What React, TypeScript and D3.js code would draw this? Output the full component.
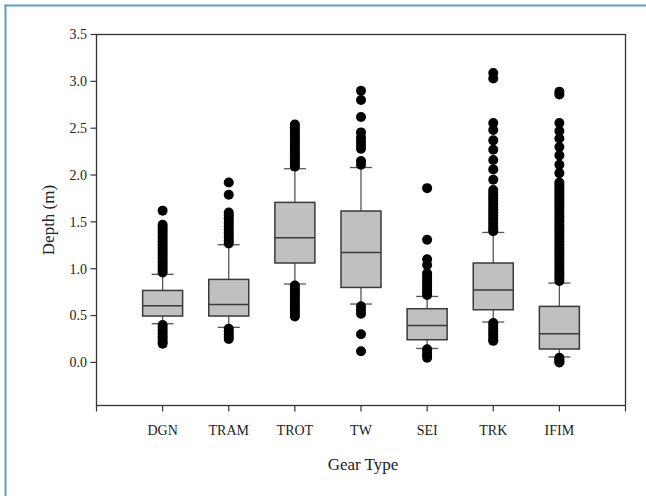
import React from 'react';
import * as d3 from 'd3';

// gear types along the x axis
const categories = ['DGN', 'TRAM', 'TROT', 'TW', 'SEI', 'TRK', 'IFIM'];

// box statistics (depth in m)
const q1 = [0.495, 0.495, 1.061, 0.8, 0.242, 0.562, 0.143];
const medians = [0.605, 0.619, 1.331, 1.174, 0.395, 0.772, 0.306];
const q3 = [0.768, 0.886, 1.708, 1.616, 0.573, 1.061, 0.598];
const whiskerLow = [0.413, 0.374, 0.837, 0.623, 0.149, 0.431, 0.058];
const whiskerHigh = [0.94, 1.256, 2.067, 2.08, 0.704, 1.387, 0.847];

// outliers per gear type
const outliers = [
  [1.62, 1.47, 1.44, 1.41, 1.38, 1.35, 1.32, 1.29, 1.26, 1.23, 1.2, 1.17, 1.14, 1.11, 1.08, 1.05, 1.02, 0.99, 0.96,
    0.4, 0.37, 0.34, 0.31, 0.28, 0.25, 0.22, 0.2],
  [1.92, 1.79, 1.6, 1.57, 1.54, 1.51, 1.48, 1.45, 1.42, 1.39, 1.36, 1.33, 1.3, 1.27,
    0.36, 0.33, 0.3, 0.27, 0.25],
  [2.54, 2.51, 2.48, 2.45, 2.42, 2.39, 2.36, 2.33, 2.3, 2.27, 2.24, 2.21, 2.18, 2.15, 2.12, 2.09,
    0.82, 0.79, 0.76, 0.73, 0.7, 0.67, 0.64, 0.61, 0.58, 0.55, 0.52, 0.49],
  [2.9, 2.8, 2.62, 2.455, 2.4, 2.36, 2.32, 2.28, 2.15, 2.11,
    0.6, 0.56, 0.52, 0.3, 0.12],
  [1.86, 1.31, 1.1, 1.04, 0.95, 0.92, 0.89, 0.86, 0.83, 0.8, 0.77, 0.74, 0.72,
    0.14, 0.11, 0.08, 0.05],
  [3.09, 3.03, 2.555, 2.48, 2.37, 2.27, 2.16, 2.06, 1.95, 1.84, 1.81, 1.78, 1.75, 1.72, 1.69, 1.66, 1.63, 1.6,
    1.57, 1.54, 1.51, 1.48, 1.45, 1.42, 1.4,
    0.42, 0.39, 0.36, 0.33, 0.3, 0.27, 0.24, 0.23],
  [2.89, 2.86, 2.555, 2.47, 2.39, 2.3, 2.21, 2.11, 2.02, 1.92, 1.89, 1.86, 1.83, 1.8, 1.77, 1.74, 1.71, 1.68,
    1.65, 1.62, 1.59, 1.56, 1.53, 1.5, 1.47, 1.44, 1.41, 1.38, 1.35, 1.32, 1.29, 1.26, 1.23, 1.2, 1.17, 1.14,
    1.11, 1.08, 1.05, 1.02, 0.99, 0.96, 0.93, 0.9, 0.87,
    0.05, 0.03, 0.01, 0.0],
];

const yTicks = [0, 0.5, 1, 1.5, 2, 2.5, 3, 3.5];
const xTicks = [0, 1, 2, 3, 4, 5, 6, 7, 8];

const W = 646;
const H = 496;
const font = '"Liberation Serif", "Times New Roman", serif';

export default function App() {
  const x = d3.scaleLinear().domain([0, 8]).range([96.5, 625.5]);
  const y = d3.scaleLinear().domain([-0.46, 3.5]).range([405.5, 34.5]);
  const boxW = 40;
  const capW = 22;

  return (
    <svg width={W} height={H} style={{ position: 'absolute', left: 0, top: 0, background: '#fff' }}>
      {/* blue frame */}
      <line x1={5.5} x2={5.5} y1={4.5} y2={H} stroke="#5aa0c2" strokeWidth={2} />
      <line x1={4.5} x2={W} y1={5.5} y2={5.5} stroke="#5aa0c2" strokeWidth={2} />

      {categories.map((c, i) => {
        const cx = x(i + 1);
        return (
          <g key={c}>
            <line x1={cx} x2={cx} y1={y(q3[i])} y2={y(whiskerHigh[i])} stroke="#555" strokeWidth={1.3} />
            <line x1={cx} x2={cx} y1={y(q1[i])} y2={y(whiskerLow[i])} stroke="#555" strokeWidth={1.3} />
            <line x1={cx - capW / 2} x2={cx + capW / 2} y1={y(whiskerHigh[i])} y2={y(whiskerHigh[i])} stroke="#555" strokeWidth={1.3} />
            <line x1={cx - capW / 2} x2={cx + capW / 2} y1={y(whiskerLow[i])} y2={y(whiskerLow[i])} stroke="#555" strokeWidth={1.3} />
            <rect x={cx - boxW / 2} y={y(q3[i])} width={boxW} height={y(q1[i]) - y(q3[i])}
              fill="#c0c0c0" stroke="#3a3a3a" strokeWidth={1.5} />
            <line x1={cx - boxW / 2} x2={cx + boxW / 2} y1={y(medians[i])} y2={y(medians[i])} stroke="#3a3a3a" strokeWidth={1.5} />
            {outliers[i].map((v, j) => (
              <circle key={j} cx={cx} cy={y(v)} r={5} fill="#000" />
            ))}
          </g>
        );
      })}

      {/* plot frame */}
      <rect x={96.5} y={34.5} width={529} height={371} fill="none" stroke="#333" strokeWidth={1.3} />

      {yTicks.map(t => (
        <g key={t}>
          <line x1={90.5} x2={96.5} y1={y(t)} y2={y(t)} stroke="#333" strokeWidth={1.2} />
          <text x={87} y={y(t)} dy="0.35em" textAnchor="end" fontFamily={font} fontSize={14} fill="#222">
            {d3.format('.1f')(t)}
          </text>
        </g>
      ))}
      {xTicks.map(t => (
        <line key={t} x1={x(t)} x2={x(t)} y1={405.5} y2={411.5} stroke="#333" strokeWidth={1.2} />
      ))}
      {categories.map((c, i) => (
        <text key={c} x={x(i + 1)} y={435} textAnchor="middle" fontFamily={font} fontSize={14} fill="#222">
          {c}
        </text>
      ))}

      <text x={363} y={470} textAnchor="middle" fontFamily={font} fontSize={17} fill="#222">Gear Type</text>
      <text transform="translate(54,220) rotate(-90)" textAnchor="middle" fontFamily={font} fontSize={17} fill="#222">
        Depth (m)
      </text>
    </svg>
  );
}
